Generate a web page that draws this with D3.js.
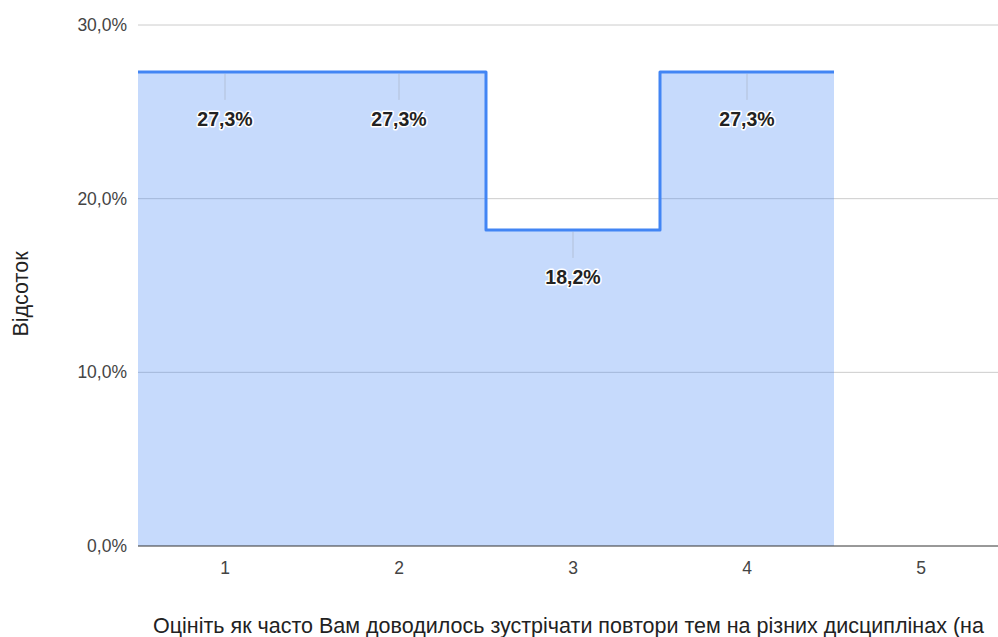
<!DOCTYPE html>
<html>
<head>
<meta charset="utf-8">
<script src="https://d3js.org/d3.v7.min.js"></script>
<style>
  body { margin: 0; background: #fff; overflow: hidden; }
  text { font-family: Arial, "Liberation Sans", sans-serif; }
  .tick-label { fill: #444; font-size: 17.5px; }
  .val-label { font-size: 19.5px; font-weight: bold; fill: #222; stroke: #fff; stroke-width: 3px; paint-order: stroke; stroke-linejoin: round; }
  .axis-title { fill: #222; font-size: 21.5px; }
</style>
</head>
<body>
<div id="chart"></div>
<script>
// categories and values (share of answers)
var categories = ["1", "2", "3", "4", "5"];
var values = [0.273, 0.273, 0.182, 0.273, null];
var valueLabels = ["27,3%", "27,3%", "18,2%", "27,3%", null];
var yTicks = [0, 0.1, 0.2, 0.3];
var yTickLabels = ["0,0%", "10,0%", "20,0%", "30,0%"];
var xTitle = "Оцініть як часто Вам доводилось зустрічати повтори тем на різних дисциплінах (на";
var yTitle = "Відсоток";

var W = 998, H = 637;
// plot runs a little past the right edge, like the original
var margin = {top: 25, right: -10, bottom: 91, left: 138};
var width = W - margin.left - margin.right,
    height = H - margin.top - margin.bottom;

var svg = d3.select("#chart").append("svg")
  .attr("width", W).attr("height", H);
var g = svg.append("g")
  .attr("transform", "translate(" + margin.left + "," + margin.top + ")");

var x = d3.scaleBand().domain(categories).range([0, width]);
var y = d3.scaleLinear().domain([0, 0.3]).range([height, 0]);

// gridlines
g.selectAll(".grid").data(yTicks.slice(1)).enter().append("line")
  .attr("x1", 0).attr("x2", width)
  .attr("y1", function(d) { return y(d); })
  .attr("y2", function(d) { return y(d); })
  .attr("stroke", "#ccc").attr("stroke-width", 1);

// y tick labels
g.selectAll(".ytl").data(yTicks).enter().append("text")
  .attr("class", "tick-label")
  .attr("x", -11)
  .attr("y", function(d) { return y(d); })
  .attr("dy", "0.35em")
  .attr("text-anchor", "end")
  .text(function(d, i) { return yTickLabels[i]; });

// stepped points: two per defined category, at band edges
var pts = [];
categories.forEach(function(c, i) {
  if (values[i] == null) return;
  pts.push([x(c), values[i]]);
  pts.push([x(c) + x.bandwidth(), values[i]]);
});

var area = d3.area()
  .x(function(d) { return d[0]; })
  .y0(y(0))
  .y1(function(d) { return y(d[1]); });
var line = d3.line()
  .x(function(d) { return d[0]; })
  .y(function(d) { return y(d[1]); });

g.append("path").datum(pts)
  .attr("d", area)
  .attr("fill", "#4285f4").attr("fill-opacity", 0.3);

g.append("path").datum(pts)
  .attr("d", line)
  .attr("fill", "none")
  .attr("stroke", "#4285f4")
  .attr("stroke-width", 3)
  .attr("stroke-linejoin", "round");

// baseline
g.append("line")
  .attr("x1", 0).attr("x2", width)
  .attr("y1", y(0)).attr("y2", y(0))
  .attr("stroke", "#333").attr("stroke-width", 1);

// value labels with leader lines
var lab = categories.map(function(c, i) { return {c: c, v: values[i], t: valueLabels[i]}; })
  .filter(function(d) { return d.v != null; });

g.selectAll(".leader").data(lab).enter().append("line")
  .attr("x1", function(d) { return x(d.c) + x.bandwidth() / 2; })
  .attr("x2", function(d) { return x(d.c) + x.bandwidth() / 2; })
  .attr("y1", function(d) { return y(d.v) + 2; })
  .attr("y2", function(d) { return y(d.v) + 28; })
  .attr("stroke", "#888").attr("stroke-opacity", 0.3).attr("stroke-width", 1);

g.selectAll(".val-label").data(lab).enter().append("text")
  .attr("class", "val-label")
  .attr("x", function(d) { return x(d.c) + x.bandwidth() / 2; })
  .attr("y", function(d) { return y(d.v) + 47; })
  .attr("dy", "0.35em")
  .attr("text-anchor", "middle")
  .text(function(d) { return d.t; });

// x tick labels
g.selectAll(".xtl").data(categories).enter().append("text")
  .attr("class", "tick-label")
  .attr("x", function(d) { return x(d) + x.bandwidth() / 2; })
  .attr("y", height + 22)
  .attr("dy", "0.35em")
  .attr("text-anchor", "middle")
  .text(function(d) { return d; });

// axis titles (the x title is clipped at the right edge, as in the original)
svg.append("text")
  .attr("class", "axis-title")
  .attr("x", 153).attr("y", 625.5)
  .attr("dy", "0.35em")
  .text(xTitle);

svg.append("text")
  .attr("class", "axis-title")
  .attr("transform", "translate(20,294) rotate(-90)")
  .attr("dy", "0.35em")
  .attr("text-anchor", "middle")
  .text(yTitle);
</script>
</body>
</html>
